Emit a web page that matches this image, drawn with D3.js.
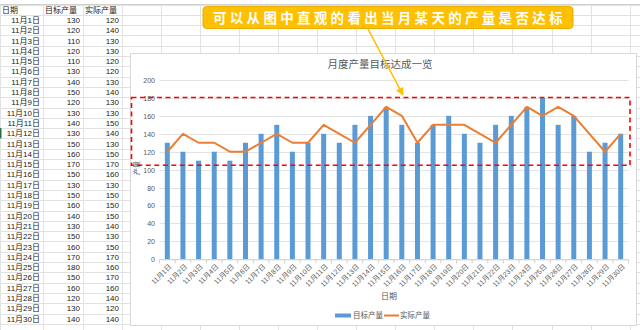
<!DOCTYPE html>
<html><head><meta charset="utf-8">
<script src="https://cdn.jsdelivr.net/npm/d3@7/dist/d3.min.js"></script>
<style>html,body{margin:0;padding:0;background:#fff;overflow:hidden}</style>
</head><body>
<svg id="c" width="640" height="330"></svg>
<script>
const days = ["11月1日","11月2日","11月3日","11月4日","11月5日","11月6日","11月7日","11月8日","11月9日","11月10日","11月11日","11月12日","11月13日","11月14日","11月15日","11月16日","11月17日","11月18日","11月19日","11月20日","11月21日","11月22日","11月23日","11月24日","11月25日","11月26日","11月27日","11月28日","11月29日","11月30日"];
const target = [130,120,110,120,110,130,140,150,120,130,140,130,150,160,170,150,130,150,160,140,130,150,160,170,180,150,160,120,130,140];
const actual = [120,140,130,130,120,120,130,140,130,130,150,140,130,150,170,160,130,150,150,150,140,130,150,170,160,170,160,140,120,140];
const headers = ["日期","目标产量","实际产量"];
const yTicks = [0,20,40,60,80,100,120,140,160,180,200];
const title = "月度产量目标达成一览";
const callout = "可以从图中直观的看出当月某天的产量是否达标";

const svg = d3.select("#c");
const font = "'Liberation Sans','Noto Sans CJK SC',sans-serif";

// spreadsheet grid
const g0 = svg.append("g");
const colX = [0,43,83,122,161,200,239,278,317,356,395,434,473,512,552,591,630,669];
const rowH = 10.3, row0 = 4.5;
const nRows = 33;
colX.forEach(x => g0.append("line").attr("x1",x+0.5).attr("x2",x+0.5).attr("y1",row0).attr("y2",330).attr("stroke","#e2e2e2"));
for (let i=0;i<nRows;i++){ const y=Math.round(row0+i*rowH)+0.5; g0.append("line").attr("x1",0).attr("x2",640).attr("y1",y).attr("y2",y).attr("stroke","#e2e2e2"); }
g0.append("line").attr("x1",0).attr("x2",640).attr("y1",row0).attr("y2",row0).attr("stroke","#cfcfcf");
// header
headers.forEach((h,i)=> g0.append("text").attr("x",colX[i]+2).attr("y",row0+rowH*0.5+3).attr("font-family",font).attr("font-size",8).attr("fill","#222").text(h));
days.forEach((d,i)=>{
  const cy = row0 + rowH*(i+1) + rowH*0.5 + 3;
  g0.append("text").attr("x",colX[1]-3).attr("y",cy).attr("text-anchor","end").attr("font-family",font).attr("font-size",8).attr("fill","#222").text(d);
  g0.append("text").attr("x",colX[2]-3).attr("y",cy).attr("text-anchor","end").attr("font-family",font).attr("font-size",8).attr("fill","#222").text(target[i]);
  g0.append("text").attr("x",colX[3]-3).attr("y",cy).attr("text-anchor","end").attr("font-family",font).attr("font-size",8).attr("fill","#222").text(actual[i]);
});
g0.append("rect").attr("x",0).attr("y",row0+rowH*12).attr("width",1.5).attr("height",rowH).attr("fill","#217346");

// chart box
svg.append("rect").attr("x",130.5).attr("y",53.5).attr("width",506).attr("height",272).attr("fill","#fff").attr("stroke","#d9d9d9");

const x = d3.scaleBand().domain(days).range([159.5,628.5]).paddingInner(0.68).paddingOuter(0.34);
const y = d3.scaleLinear().domain([0,200]).range([259.3,80]);

// gridlines
svg.append("g").selectAll("line").data(yTicks).join("line")
  .attr("x1",159.5).attr("x2",628.5).attr("y1",d=>Math.round(y(d))+0.5).attr("y2",d=>Math.round(y(d))+0.5)
  .attr("stroke","#e3e3e3");

// y axis labels
const yAxis = d3.axisLeft(y).tickValues(yTicks).tickSize(0).tickPadding(0);
const ya = svg.append("g").attr("transform","translate(155,0)").call(yAxis);
ya.select(".domain").remove();
ya.selectAll("text").attr("font-family",font).attr("font-size",7).attr("fill","#595959").attr("dy","0.35em");

// bars
svg.append("g").selectAll("rect").data(target).join("rect")
  .attr("x",(d,i)=>x(days[i])).attr("width",x.bandwidth())
  .attr("y",d=>y(d)).attr("height",d=>y(0)-y(d)).attr("fill","#5B9BD5");

// x axis
const xa = svg.append("g").attr("transform",`translate(0,${y(0)})`);
xa.append("line").attr("x1",159.5).attr("x2",628.5).attr("y1",0.5).attr("y2",0.5).attr("stroke","#d0d0d0");
const bounds = d3.range(days.length+1).map(i=>159.5 + i*x.step());
xa.selectAll("line.tk").data(bounds).join("line").attr("class","tk")
  .attr("x1",d=>d).attr("x2",d=>d).attr("y1",0.5).attr("y2",4).attr("stroke","#d0d0d0");
xa.selectAll("text").data(days).join("text")
  .attr("transform",d=>`translate(${x(d)+x.bandwidth()/2+3},6) rotate(-45)`)
  .attr("text-anchor","end").attr("dy","0.35em")
  .attr("font-family",font).attr("font-size",7).attr("fill","#595959").text(d=>d);

// line
const line = d3.line().x((d,i)=>x(days[i])+x.bandwidth()/2).y(d=>y(d));
svg.append("path").datum(actual).attr("d",line).attr("fill","none").attr("stroke","#ED7D31").attr("stroke-width",2).attr("stroke-linejoin","round");

// title
svg.append("text").attr("x",380).attr("y",68).attr("text-anchor","middle").attr("font-family",font).attr("font-size",10.5).attr("fill","#595959").text(title);
// axis titles
svg.append("text").attr("x",389).attr("y",299).attr("text-anchor","middle").attr("font-family",font).attr("font-size",8).attr("fill","#595959").text("日期");
svg.append("text").attr("transform","translate(139,168) rotate(-90)").attr("text-anchor","middle").attr("font-family",font).attr("font-size",7).attr("fill","#595959").text("产量");

// legend
svg.append("rect").attr("x",335).attr("y",313.5).attr("width",16).attr("height",4).attr("fill","#5B9BD5");
svg.append("text").attr("x",353).attr("y",318).attr("font-family",font).attr("font-size",7.5).attr("fill","#595959").text(headers[1]);
svg.append("line").attr("x1",384).attr("x2",399).attr("y1",315.5).attr("y2",315.5).attr("stroke","#ED7D31").attr("stroke-width",2);
svg.append("text").attr("x",400).attr("y",318).attr("font-family",font).attr("font-size",7.5).attr("fill","#595959").text(headers[2]);

// red dashed rectangle
svg.append("rect").attr("x",131.5).attr("y",97.5).attr("width",498.5).attr("height",67.8)
  .attr("fill","none").attr("stroke","#FF0000").attr("stroke-width",1.6).attr("stroke-dasharray","5,3.5");

// arrow
const defs = svg.append("defs");
defs.append("marker").attr("id","ah").attr("viewBox","0 0 10 10").attr("refX",9).attr("refY",5)
  .attr("markerWidth",5).attr("markerHeight",5).attr("orient","auto")
  .append("path").attr("d","M0,0 L10,5 L0,10 z").attr("fill","#FFC000");
svg.append("line").attr("x1",368).attr("y1",29).attr("x2",403).attr("y2",95)
  .attr("stroke","#FFC000").attr("stroke-width",1.6).attr("marker-end","url(#ah)");

// callout
svg.append("rect").attr("x",203).attr("y",6.5).attr("width",370).attr("height",22).attr("rx",3.5)
  .attr("fill","#FFC000").attr("stroke","#E9AE00");
svg.append("text").attr("x",213).attr("y",23).attr("font-family","'Noto Sans CJK SC',sans-serif").attr("font-weight","bold")
  .attr("font-size",13.5).attr("letter-spacing",3.3).attr("fill","#fff").text(callout);
</script>
</body></html>
